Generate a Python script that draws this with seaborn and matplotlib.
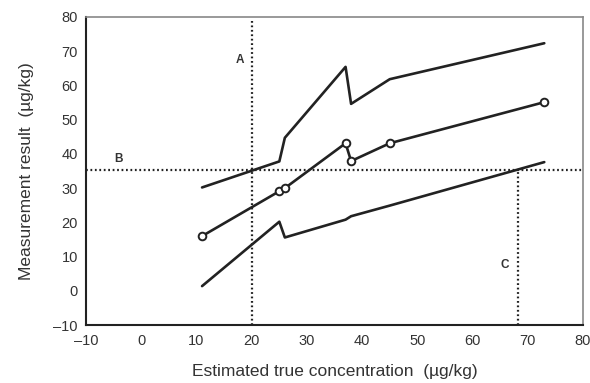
import matplotlib
matplotlib.use("Agg")
import matplotlib.pyplot as plt
import seaborn as sns
import pandas as pd

sns.set_theme(style="white")
plt.rcParams['font.family'] = ['Liberation Sans', 'DejaVu Sans']

x_vals = [11, 25, 26, 37, 38, 45, 73]
upper = [30.2, 37.8, 44.7, 65.4, 54.6, 61.8, 72.3]
middle = [16.0, 29.1, 30.0, 43.1, 37.9, 43.1, 55.1]
lower = [1.4, 20.2, 15.6, 20.8, 21.8, 24.9, 37.6]

x_ticks = [-10, 0, 10, 20, 30, 40, 50, 60, 70, 80]
y_ticks = [-10, 0, 10, 20, 30, 40, 50, 60, 70, 80]

ref_a_x = 20
ref_b_y = 35.3
ref_c_x = 68.2

labels = ["A", "B", "C"]
label_x = [17.8, -4.2, 65.8]
label_y = [67.4, 38.4, 7.5]

df = pd.DataFrame({
    "x": x_vals * 3,
    "y": upper + middle + lower,
    "series": ["upper"] * 7 + ["middle"] * 7 + ["lower"] * 7,
})

fig = plt.figure(figsize=(5.9, 3.83), dpi=100)
ax = fig.add_axes([0.146, 0.151, 0.842, 0.805])

col = "#222222"
for s in ["upper", "lower"]:
    d = df[df.series == s]
    sns.lineplot(data=d, x="x", y="y", sort=False, color=col, lw=1.9, ax=ax)
d = df[df.series == "middle"]
sns.lineplot(data=d, x="x", y="y", sort=False, color=col, lw=1.9, marker="o",
             markersize=5.5, markerfacecolor="white", markeredgecolor=col,
             markeredgewidth=1.4, ax=ax)

dot = dict(color=col, lw=1.6, ls=(0, (0.8, 1.2)))
ax.plot([ref_a_x, ref_a_x], [-10, 79], **dot)
ax.plot([-10, 80], [ref_b_y, ref_b_y], **dot)
ax.plot([ref_c_x, ref_c_x], [-10, ref_b_y], **dot)

for t, tx, ty in zip(labels, label_x, label_y):
    ax.text(tx, ty, t, fontsize=8.5, fontweight="bold", color="#333333",
            ha="center", va="center")

ax.set_xlim(-10, 80)
ax.set_ylim(-10, 80)
ax.set_xticks(x_ticks)
ax.set_yticks(y_ticks)
ax.set_xticklabels([f"{v}".replace("-", "\u2013") for v in x_ticks])
ax.set_yticklabels([f"{v}".replace("-", "\u2013") for v in y_ticks])
ax.tick_params(axis="both", labelsize=10.5, colors="#333333", length=3,
               width=1, direction="out", pad=3)
ax.set_xlabel("Estimated true concentration  (\u00b5g/kg)", fontsize=12.5,
              color="#333333", labelpad=12)
ax.set_ylabel("Measurement result  (\u00b5g/kg)", fontsize=12.5,
              color="#333333", labelpad=14)

for sp in ["left", "bottom"]:
    ax.spines[sp].set_color("#222222")
    ax.spines[sp].set_linewidth(1.5)
for sp in ["top", "right"]:
    ax.spines[sp].set_color("#888888")
    ax.spines[sp].set_linewidth(1.2)
ax.grid(False)

fig.savefig("out.png", dpi=100)
